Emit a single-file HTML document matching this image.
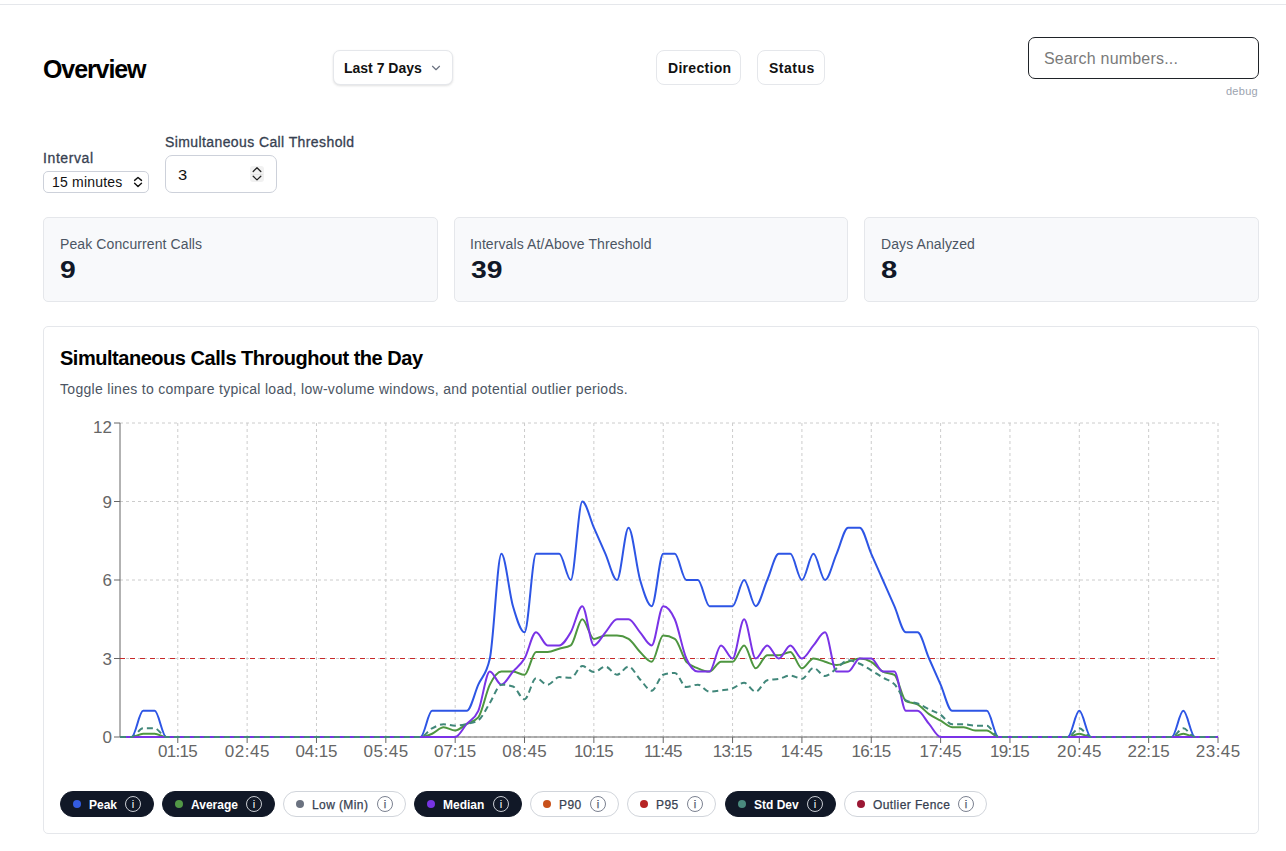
<!DOCTYPE html>
<html lang="en">
<head>
<meta charset="utf-8">
<title>Overview</title>
<style>
*{box-sizing:border-box;margin:0;padding:0}
html,body{width:1286px;height:851px;overflow:hidden;background:#fff}
body{position:relative;font-family:"Liberation Sans",Arial,sans-serif;color:#111827}
.abs{position:absolute}
.t{position:absolute;white-space:nowrap}
.topline{position:absolute;left:0;top:4px;width:1286px;height:1px;background:#e5e7eb}
.btn{position:absolute;background:#fff;border:1px solid #e5e7eb;border-radius:8px}
.card{position:absolute;background:#f8f9fb;border:1px solid #e5e7eb;border-radius:5px}
.chartcard{position:absolute;left:43px;top:326px;width:1216px;height:508px;background:#fff;border:1px solid #e5e7eb;border-radius:5px}
svg.chart{position:absolute;left:0;top:0}
svg.chart text{font-family:"Liberation Sans",Arial,sans-serif;font-size:17px}
.pill{position:absolute;top:791px;height:26px;border-radius:13px;border:1px solid #d1d5db;background:#fff;color:#374151;font-size:12px;letter-spacing:0.4px;-webkit-text-stroke:0.25px #374151}
.pill.on{background:#111827;border-color:#111827;color:#fff;font-weight:bold;letter-spacing:0;-webkit-text-stroke:0}
.pill .dot{position:absolute;left:12px;top:8px;width:8px;height:8px;border-radius:50%}
.pill .lbl{position:absolute;left:28px;top:1px;line-height:24px;white-space:nowrap}
.pill .info{position:absolute;top:4px;width:16px;height:16px;margin-left:-1px;border-radius:50%;border:1px solid #7b8190;color:#6b7280;font-size:11px;line-height:14px;text-align:center;font-weight:normal;letter-spacing:0}
.pill.on .info{border-color:#c9ccd3;color:#fff}
</style>
</head>
<body>
<div class="topline"></div>

<!-- header -->
<div class="t" style="left:43px;top:54.5px;font-size:25px;line-height:28px;font-weight:bold;letter-spacing:-1.1px;color:#000">Overview</div>

<div class="btn" style="left:333px;top:50px;width:120px;height:35px;border-radius:7px;box-shadow:0 1px 3px rgba(0,0,0,0.08),0 1px 2px rgba(0,0,0,0.05)"></div>
<div class="t" style="left:344px;top:59px;font-size:14px;line-height:18px;font-weight:bold;color:#111">Last 7 Days</div>
<svg class="abs" style="left:429px;top:61px" width="14" height="14" viewBox="0 0 24 24" fill="none" stroke="#6b7280" stroke-width="2" stroke-linecap="round" stroke-linejoin="round"><path d="m6 9 6 6 6-6"/></svg>

<div class="btn" style="left:656px;top:50px;width:85px;height:35px"></div>
<div class="t" style="left:668px;top:59px;font-size:14px;line-height:18px;font-weight:bold;letter-spacing:0.3px;color:#111">Direction</div>
<div class="btn" style="left:757px;top:50px;width:68px;height:35px"></div>
<div class="t" style="left:769px;top:59px;font-size:14px;line-height:18px;font-weight:bold;letter-spacing:0.5px;color:#111">Status</div>

<div class="abs" style="left:1028px;top:37px;width:231px;height:42px;border:1px solid #1f2328;border-radius:7px;background:#fff"></div>
<div class="t" style="left:1044px;top:49px;font-size:16px;line-height:20px;letter-spacing:0.2px;color:#7a7a7a">Search numbers...</div>
<div class="t" style="right:28px;top:84px;font-size:11px;line-height:14px;letter-spacing:0.3px;color:#9ca3af">debug</div>

<!-- controls -->
<div class="t" style="left:43px;top:149px;font-size:14px;line-height:18px;letter-spacing:0.6px;color:#374151;-webkit-text-stroke:0.3px #374151">Interval</div>
<div class="abs" style="left:43px;top:171px;width:106px;height:22px;border:1px solid #cdd1da;border-radius:5px;background:#fff"></div>
<div class="t" style="left:52px;top:174px;font-size:14px;line-height:17px;letter-spacing:0.2px;color:#111">15 minutes</div>
<svg class="abs" style="left:132px;top:175px" width="12" height="14" viewBox="0 0 12 14" fill="none" stroke="#111" stroke-width="1.4" stroke-linecap="round" stroke-linejoin="round"><path d="M2.6 5.4 6 2.5 9.5 5.4M2.6 8.2 6 11.5 9.5 8.2"/></svg>

<div class="t" style="left:165px;top:133px;font-size:14px;line-height:18px;letter-spacing:0.4px;color:#374151;-webkit-text-stroke:0.3px #374151">Simultaneous Call Threshold</div>
<div class="abs" style="left:165px;top:155px;width:112px;height:38px;border:1px solid #cdd1da;border-radius:7px;background:#fff"></div>
<div class="t" style="left:178px;top:166px;font-size:15px;line-height:18px;color:#111;transform:scaleX(1.1);transform-origin:0 0">3</div>
<div class="abs" style="left:250px;top:166px;width:14px;height:16px;border-radius:3px;background:#f1f1f1"></div><div class="abs" style="left:251px;top:173.5px;width:12px;height:1px;background:#e4e4e4"></div>
<svg class="abs" style="left:250px;top:166px" width="14" height="16" viewBox="0 0 14 16" fill="none" stroke="#222" stroke-width="1.3" stroke-linecap="round" stroke-linejoin="round"><path d="M3.2 5.5 7 1.7 10.8 5.5M3.2 10.3 7 13.9 10.8 10.3"/></svg>

<!-- stat cards -->
<div class="card" style="left:43px;top:217px;width:395px;height:85px"></div>
<div class="card" style="left:454px;top:217px;width:394px;height:85px"></div>
<div class="card" style="left:864px;top:217px;width:395px;height:85px"></div>
<div class="t" style="left:60px;top:236px;font-size:14px;line-height:17px;letter-spacing:0.1px;color:#4b5563">Peak Concurrent Calls</div>
<div class="t" style="left:470px;top:236px;font-size:14px;line-height:17px;letter-spacing:0.1px;color:#4b5563">Intervals At/Above Threshold</div>
<div class="t" style="left:881px;top:236px;font-size:14px;line-height:17px;letter-spacing:0.1px;color:#4b5563">Days Analyzed</div>
<div class="t" style="left:60px;top:256px;font-size:24px;line-height:28px;font-weight:bold;color:#111827;transform:scaleX(1.18);transform-origin:0 0">9</div>
<div class="t" style="left:471px;top:256px;font-size:24px;line-height:28px;font-weight:bold;color:#111827;transform:scaleX(1.18);transform-origin:0 0">39</div>
<div class="t" style="left:881px;top:256px;font-size:24px;line-height:28px;font-weight:bold;color:#111827;transform:scaleX(1.22);transform-origin:0 0">8</div>

<!-- chart card -->
<div class="chartcard"></div>
<div class="t" style="left:60px;top:346px;font-size:20px;line-height:24px;font-weight:bold;letter-spacing:-0.47px;color:#000">Simultaneous Calls Throughout the Day</div>
<div class="t" style="left:60px;top:381px;font-size:14px;line-height:17px;letter-spacing:0.3px;color:#4b5563">Toggle lines to compare typical load, low-volume windows, and potential outlier periods.</div>

<svg class="chart" width="1286" height="851" viewBox="0 0 1286 851">
<g stroke="#ccc" stroke-dasharray="3 3" fill="none"><line x1="120" y1="737.000" x2="1218" y2="737.000"/><line x1="120" y1="658.500" x2="1218" y2="658.500"/><line x1="120" y1="580.000" x2="1218" y2="580.000"/><line x1="120" y1="501.500" x2="1218" y2="501.500"/><line x1="120" y1="423.000" x2="1218" y2="423.000"/><line x1="177.789" y1="423" x2="177.789" y2="737"/><line x1="247.137" y1="423" x2="247.137" y2="737"/><line x1="316.484" y1="423" x2="316.484" y2="737"/><line x1="385.832" y1="423" x2="385.832" y2="737"/><line x1="455.179" y1="423" x2="455.179" y2="737"/><line x1="524.526" y1="423" x2="524.526" y2="737"/><line x1="593.874" y1="423" x2="593.874" y2="737"/><line x1="663.221" y1="423" x2="663.221" y2="737"/><line x1="732.568" y1="423" x2="732.568" y2="737"/><line x1="801.916" y1="423" x2="801.916" y2="737"/><line x1="871.263" y1="423" x2="871.263" y2="737"/><line x1="940.611" y1="423" x2="940.611" y2="737"/><line x1="1009.958" y1="423" x2="1009.958" y2="737"/><line x1="1079.305" y1="423" x2="1079.305" y2="737"/><line x1="1148.653" y1="423" x2="1148.653" y2="737"/><line x1="1218.000" y1="423" x2="1218.000" y2="737"/></g>
<g stroke="#666" fill="none"><line x1="120" y1="737" x2="1218" y2="737"/><line x1="177.789" y1="743" x2="177.789" y2="737"/><line x1="247.137" y1="743" x2="247.137" y2="737"/><line x1="316.484" y1="743" x2="316.484" y2="737"/><line x1="385.832" y1="743" x2="385.832" y2="737"/><line x1="455.179" y1="743" x2="455.179" y2="737"/><line x1="524.526" y1="743" x2="524.526" y2="737"/><line x1="593.874" y1="743" x2="593.874" y2="737"/><line x1="663.221" y1="743" x2="663.221" y2="737"/><line x1="732.568" y1="743" x2="732.568" y2="737"/><line x1="801.916" y1="743" x2="801.916" y2="737"/><line x1="871.263" y1="743" x2="871.263" y2="737"/><line x1="940.611" y1="743" x2="940.611" y2="737"/><line x1="1009.958" y1="743" x2="1009.958" y2="737"/><line x1="1079.305" y1="743" x2="1079.305" y2="737"/><line x1="1148.653" y1="743" x2="1148.653" y2="737"/><line x1="1218.000" y1="743" x2="1218.000" y2="737"/><line x1="120" y1="423" x2="120" y2="737"/><line x1="114" y1="737.000" x2="120" y2="737.000"/><line x1="114" y1="658.500" x2="120" y2="658.500"/><line x1="114" y1="580.000" x2="120" y2="580.000"/><line x1="114" y1="501.500" x2="120" y2="501.500"/><line x1="114" y1="423.000" x2="120" y2="423.000"/></g>
<g class="ticks" fill="#666"><text x="177.439" y="745" dy="0.71em" text-anchor="middle" letter-spacing="-0.7">01:15</text><text x="247.387" y="745" dy="0.71em" text-anchor="middle" letter-spacing="0.5">02:45</text><text x="316.434" y="745" dy="0.71em" text-anchor="middle" letter-spacing="-0.1">04:15</text><text x="386.082" y="745" dy="0.71em" text-anchor="middle" letter-spacing="0.5">05:45</text><text x="455.129" y="745" dy="0.71em" text-anchor="middle" letter-spacing="-0.1">07:15</text><text x="524.776" y="745" dy="0.71em" text-anchor="middle" letter-spacing="0.5">08:45</text><text x="593.524" y="745" dy="0.71em" text-anchor="middle" letter-spacing="-0.7">10:15</text><text x="662.871" y="745" dy="0.71em" text-anchor="middle" letter-spacing="-0.7">11:45</text><text x="732.218" y="745" dy="0.71em" text-anchor="middle" letter-spacing="-0.7">13:15</text><text x="801.866" y="745" dy="0.71em" text-anchor="middle" letter-spacing="-0.1">14:45</text><text x="870.913" y="745" dy="0.71em" text-anchor="middle" letter-spacing="-0.7">16:15</text><text x="940.561" y="745" dy="0.71em" text-anchor="middle" letter-spacing="-0.1">17:45</text><text x="1009.608" y="745" dy="0.71em" text-anchor="middle" letter-spacing="-0.7">19:15</text><text x="1079.555" y="745" dy="0.71em" text-anchor="middle" letter-spacing="0.5">20:45</text><text x="1148.603" y="745" dy="0.71em" text-anchor="middle" letter-spacing="-0.1">22:15</text><text x="1218.250" y="745" dy="0.71em" text-anchor="middle" letter-spacing="0.5">23:45</text><text x="112" y="737.000" dy="0.355em" text-anchor="end">0</text><text x="112" y="658.500" dy="0.355em" text-anchor="end">3</text><text x="112" y="580.000" dy="0.355em" text-anchor="end">6</text><text x="112" y="501.500" dy="0.355em" text-anchor="end">9</text><text x="112" y="427.000" dy="0.355em" text-anchor="end">12</text></g>
<line x1="120" y1="658.500" x2="1218" y2="658.500" stroke="#c62828" stroke-dasharray="5 5"/>
<path d="M120,737C123.853,737,127.705,737,131.558,737C135.411,737,139.263,710.833,143.116,710.833C146.968,710.833,150.821,710.833,154.674,710.833C158.526,710.833,162.379,737,166.232,737C170.084,737,173.937,737,177.789,737C181.642,737,185.495,737,189.347,737C193.2,737,197.053,737,200.905,737C204.758,737,208.611,737,212.463,737C216.316,737,220.168,737,224.021,737C227.874,737,231.726,737,235.579,737C239.432,737,243.284,737,247.137,737C250.989,737,254.842,737,258.695,737C262.547,737,266.4,737,270.253,737C274.105,737,277.958,737,281.811,737C285.663,737,289.516,737,293.368,737C297.221,737,301.074,737,304.926,737C308.779,737,312.632,737,316.484,737C320.337,737,324.189,737,328.042,737C331.895,737,335.747,737,339.6,737C343.453,737,347.305,737,351.158,737C355.011,737,358.863,737,362.716,737C366.568,737,370.421,737,374.274,737C378.126,737,381.979,737,385.832,737C389.684,737,393.537,737,397.389,737C401.242,737,405.095,737,408.947,737C412.8,737,416.653,737,420.505,737C424.358,737,428.211,710.833,432.063,710.833C435.916,710.833,439.768,710.833,443.621,710.833C447.474,710.833,451.326,710.833,455.179,710.833C459.032,710.833,462.884,710.833,466.737,710.833C470.589,710.833,474.442,693.389,478.295,684.667C482.147,675.944,486,675.944,489.853,658.5C493.705,641.056,497.558,553.833,501.411,553.833C505.263,553.833,509.116,593.083,512.968,606.167C516.821,619.25,520.674,632.333,524.526,632.333C528.379,632.333,532.232,553.833,536.084,553.833C539.937,553.833,543.789,553.833,547.642,553.833C551.495,553.833,555.347,553.833,559.2,553.833C563.053,553.833,566.905,580,570.758,580C574.611,580,578.463,501.5,582.316,501.5C586.168,501.5,590.021,518.944,593.874,527.667C597.726,536.389,601.579,545.111,605.432,553.833C609.284,562.556,613.137,580,616.989,580C620.842,580,624.695,527.667,628.547,527.667C632.4,527.667,636.253,566.917,640.105,580C643.958,593.083,647.811,606.167,651.663,606.167C655.516,606.167,659.368,553.833,663.221,553.833C667.074,553.833,670.926,553.833,674.779,553.833C678.632,553.833,682.484,580,686.337,580C690.189,580,694.042,580,697.895,580C701.747,580,705.6,606.167,709.453,606.167C713.305,606.167,717.158,606.167,721.011,606.167C724.863,606.167,728.716,606.167,732.568,606.167C736.421,606.167,740.274,580,744.126,580C747.979,580,751.832,606.167,755.684,606.167C759.537,606.167,763.389,588.722,767.242,580C771.095,571.278,774.947,553.833,778.8,553.833C782.653,553.833,786.505,553.833,790.358,553.833C794.211,553.833,798.063,580,801.916,580C805.768,580,809.621,553.833,813.474,553.833C817.326,553.833,821.179,580,825.032,580C828.884,580,832.737,562.556,836.589,553.833C840.442,545.111,844.295,527.667,848.147,527.667C852,527.667,855.853,527.667,859.705,527.667C863.558,527.667,867.411,545.111,871.263,553.833C875.116,562.556,878.968,571.278,882.821,580C886.674,588.722,890.526,597.444,894.379,606.167C898.232,614.889,902.084,632.333,905.937,632.333C909.789,632.333,913.642,632.333,917.495,632.333C921.347,632.333,925.2,649.778,929.053,658.5C932.905,667.222,936.758,675.944,940.611,684.667C944.463,693.389,948.316,710.833,952.168,710.833C956.021,710.833,959.874,710.833,963.726,710.833C967.579,710.833,971.432,710.833,975.284,710.833C979.137,710.833,982.989,710.833,986.842,710.833C990.695,710.833,994.547,737,998.4,737C1002.253,737,1006.105,737,1009.958,737C1013.811,737,1017.663,737,1021.516,737C1025.368,737,1029.221,737,1033.074,737C1036.926,737,1040.779,737,1044.632,737C1048.484,737,1052.337,737,1056.189,737C1060.042,737,1063.895,737,1067.747,737C1071.6,737,1075.453,710.833,1079.305,710.833C1083.158,710.833,1087.011,737,1090.863,737C1094.716,737,1098.568,737,1102.421,737C1106.274,737,1110.126,737,1113.979,737C1117.832,737,1121.684,737,1125.537,737C1129.389,737,1133.242,737,1137.095,737C1140.947,737,1144.8,737,1148.653,737C1152.505,737,1156.358,737,1160.211,737C1164.063,737,1167.916,737,1171.768,737C1175.621,737,1179.474,710.833,1183.326,710.833C1187.179,710.833,1191.032,737,1194.884,737C1198.737,737,1202.589,737,1206.442,737C1210.295,737,1214.147,737,1218,737" stroke="#2d55e5" stroke-width="2" fill="none"/>
<path d="M120,737C123.853,737,127.705,737,131.558,737C135.411,737,139.263,733.729,143.116,733.729C146.968,733.729,150.821,733.729,154.674,733.729C158.526,733.729,162.379,737,166.232,737C170.084,737,173.937,737,177.789,737C181.642,737,185.495,737,189.347,737C193.2,737,197.053,737,200.905,737C204.758,737,208.611,737,212.463,737C216.316,737,220.168,737,224.021,737C227.874,737,231.726,737,235.579,737C239.432,737,243.284,737,247.137,737C250.989,737,254.842,737,258.695,737C262.547,737,266.4,737,270.253,737C274.105,737,277.958,737,281.811,737C285.663,737,289.516,737,293.368,737C297.221,737,301.074,737,304.926,737C308.779,737,312.632,737,316.484,737C320.337,737,324.189,737,328.042,737C331.895,737,335.747,737,339.6,737C343.453,737,347.305,737,351.158,737C355.011,737,358.863,737,362.716,737C366.568,737,370.421,737,374.274,737C378.126,737,381.979,737,385.832,737C389.684,737,393.537,737,397.389,737C401.242,737,405.095,737,408.947,737C412.8,737,416.653,737,420.505,737C424.358,737,428.211,735.365,432.063,733.729C435.916,732.094,439.768,727.188,443.621,727.188C447.474,727.188,451.326,730.458,455.179,730.458C459.032,730.458,462.884,726.097,466.737,723.917C470.589,721.736,474.442,721.736,478.295,717.375C482.147,713.014,486,692.299,489.853,684.667C493.705,677.035,497.558,671.583,501.411,671.583C505.263,671.583,509.116,671.583,512.968,671.583C516.821,671.583,520.674,674.854,524.526,674.854C528.379,674.854,532.232,651.958,536.084,651.958C539.937,651.958,543.789,651.958,547.642,651.958C551.495,651.958,555.347,649.778,559.2,648.688C563.053,647.597,566.905,647.597,570.758,645.417C574.611,643.236,578.463,619.25,582.316,619.25C586.168,619.25,590.021,638.875,593.874,638.875C597.726,638.875,601.579,635.604,605.432,635.604C609.284,635.604,613.137,635.604,616.989,635.604C620.842,635.604,624.695,636.694,628.547,638.875C632.4,641.056,636.253,648.142,640.105,651.958C643.958,655.774,647.811,661.771,651.663,661.771C655.516,661.771,659.368,635.604,663.221,635.604C667.074,635.604,670.926,636.694,674.779,638.875C678.632,641.056,682.484,657.41,686.337,661.771C690.189,666.132,694.042,666.677,697.895,668.312C701.747,669.948,705.6,671.583,709.453,671.583C713.305,671.583,717.158,661.771,721.011,661.771C724.863,661.771,728.716,661.771,732.568,661.771C736.421,661.771,740.274,645.417,744.126,645.417C747.979,645.417,751.832,668.312,755.684,668.312C759.537,668.312,763.389,655.229,767.242,655.229C771.095,655.229,774.947,655.229,778.8,655.229C782.653,655.229,786.505,651.958,790.358,651.958C794.211,651.958,798.063,668.312,801.916,668.312C805.768,668.312,809.621,658.5,813.474,658.5C817.326,658.5,821.179,660.681,825.032,661.771C828.884,662.861,832.737,665.042,836.589,665.042C840.442,665.042,844.295,662.861,848.147,661.771C852,660.681,855.853,658.5,859.705,658.5C863.558,658.5,867.411,659.59,871.263,661.771C875.116,663.951,878.968,669.403,882.821,671.583C886.674,673.764,890.526,672.674,894.379,674.854C898.232,677.035,902.084,698.84,905.937,701.021C909.789,703.201,913.642,702.111,917.495,704.292C921.347,706.472,925.2,711.378,929.053,714.104C932.905,716.83,936.758,718.465,940.611,720.646C944.463,722.826,948.316,727.188,952.168,727.188C956.021,727.188,959.874,727.188,963.726,727.188C967.579,727.188,971.432,730.458,975.284,730.458C979.137,730.458,982.989,730.458,986.842,730.458C990.695,730.458,994.547,737,998.4,737C1002.253,737,1006.105,737,1009.958,737C1013.811,737,1017.663,737,1021.516,737C1025.368,737,1029.221,737,1033.074,737C1036.926,737,1040.779,737,1044.632,737C1048.484,737,1052.337,737,1056.189,737C1060.042,737,1063.895,737,1067.747,737C1071.6,737,1075.453,733.729,1079.305,733.729C1083.158,733.729,1087.011,737,1090.863,737C1094.716,737,1098.568,737,1102.421,737C1106.274,737,1110.126,737,1113.979,737C1117.832,737,1121.684,737,1125.537,737C1129.389,737,1133.242,737,1137.095,737C1140.947,737,1144.8,737,1148.653,737C1152.505,737,1156.358,737,1160.211,737C1164.063,737,1167.916,737,1171.768,737C1175.621,737,1179.474,733.729,1183.326,733.729C1187.179,733.729,1191.032,737,1194.884,737C1198.737,737,1202.589,737,1206.442,737C1210.295,737,1214.147,737,1218,737" stroke="#4e9640" stroke-width="2" fill="none"/>
<path d="M120,737C123.853,737,127.705,737,131.558,737C135.411,737,139.263,737,143.116,737C146.968,737,150.821,737,154.674,737C158.526,737,162.379,737,166.232,737C170.084,737,173.937,737,177.789,737C181.642,737,185.495,737,189.347,737C193.2,737,197.053,737,200.905,737C204.758,737,208.611,737,212.463,737C216.316,737,220.168,737,224.021,737C227.874,737,231.726,737,235.579,737C239.432,737,243.284,737,247.137,737C250.989,737,254.842,737,258.695,737C262.547,737,266.4,737,270.253,737C274.105,737,277.958,737,281.811,737C285.663,737,289.516,737,293.368,737C297.221,737,301.074,737,304.926,737C308.779,737,312.632,737,316.484,737C320.337,737,324.189,737,328.042,737C331.895,737,335.747,737,339.6,737C343.453,737,347.305,737,351.158,737C355.011,737,358.863,737,362.716,737C366.568,737,370.421,737,374.274,737C378.126,737,381.979,737,385.832,737C389.684,737,393.537,737,397.389,737C401.242,737,405.095,737,408.947,737C412.8,737,416.653,737,420.505,737C424.358,737,428.211,737,432.063,737C435.916,737,439.768,737,443.621,737C447.474,737,451.326,737,455.179,737C459.032,737,462.884,728.278,466.737,723.917C470.589,719.556,474.442,719.556,478.295,710.833C482.147,702.111,486,671.583,489.853,671.583C493.705,671.583,497.558,684.667,501.411,684.667C505.263,684.667,509.116,675.944,512.968,671.583C516.821,667.222,520.674,665.042,524.526,658.5C528.379,651.958,532.232,632.333,536.084,632.333C539.937,632.333,543.789,645.417,547.642,645.417C551.495,645.417,555.347,645.417,559.2,645.417C563.053,645.417,566.905,638.875,570.758,632.333C574.611,625.792,578.463,606.167,582.316,606.167C586.168,606.167,590.021,645.417,593.874,645.417C597.726,645.417,601.579,636.694,605.432,632.333C609.284,627.972,613.137,619.25,616.989,619.25C620.842,619.25,624.695,619.25,628.547,619.25C632.4,619.25,636.253,627.972,640.105,632.333C643.958,636.694,647.811,645.417,651.663,645.417C655.516,645.417,659.368,606.167,663.221,606.167C667.074,606.167,670.926,610.528,674.779,619.25C678.632,627.972,682.484,649.778,686.337,658.5C690.189,667.222,694.042,671.583,697.895,671.583C701.747,671.583,705.6,671.583,709.453,671.583C713.305,671.583,717.158,645.417,721.011,645.417C724.863,645.417,728.716,658.5,732.568,658.5C736.421,658.5,740.274,619.25,744.126,619.25C747.979,619.25,751.832,658.5,755.684,658.5C759.537,658.5,763.389,645.417,767.242,645.417C771.095,645.417,774.947,658.5,778.8,658.5C782.653,658.5,786.505,645.417,790.358,645.417C794.211,645.417,798.063,658.5,801.916,658.5C805.768,658.5,809.621,649.778,813.474,645.417C817.326,641.056,821.179,632.333,825.032,632.333C828.884,632.333,832.737,671.583,836.589,671.583C840.442,671.583,844.295,671.583,848.147,671.583C852,671.583,855.853,658.5,859.705,658.5C863.558,658.5,867.411,658.5,871.263,658.5C875.116,658.5,878.968,671.583,882.821,671.583C886.674,671.583,890.526,671.583,894.379,671.583C898.232,671.583,902.084,710.833,905.937,710.833C909.789,710.833,913.642,710.833,917.495,710.833C921.347,710.833,925.2,719.556,929.053,723.917C932.905,728.278,936.758,737,940.611,737C944.463,737,948.316,737,952.168,737C956.021,737,959.874,737,963.726,737C967.579,737,971.432,737,975.284,737C979.137,737,982.989,737,986.842,737C990.695,737,994.547,737,998.4,737C1002.253,737,1006.105,737,1009.958,737C1013.811,737,1017.663,737,1021.516,737C1025.368,737,1029.221,737,1033.074,737C1036.926,737,1040.779,737,1044.632,737C1048.484,737,1052.337,737,1056.189,737C1060.042,737,1063.895,737,1067.747,737C1071.6,737,1075.453,737,1079.305,737C1083.158,737,1087.011,737,1090.863,737C1094.716,737,1098.568,737,1102.421,737C1106.274,737,1110.126,737,1113.979,737C1117.832,737,1121.684,737,1125.537,737C1129.389,737,1133.242,737,1137.095,737C1140.947,737,1144.8,737,1148.653,737C1152.505,737,1156.358,737,1160.211,737C1164.063,737,1167.916,737,1171.768,737C1175.621,737,1179.474,737,1183.326,737C1187.179,737,1191.032,737,1194.884,737C1198.737,737,1202.589,737,1206.442,737C1210.295,737,1214.147,737,1218,737" stroke="#7a33e6" stroke-width="2" fill="none"/>
<path d="M120,737C123.853,737,127.705,737,131.558,737C135.411,737,139.263,728.339,143.116,728.339C146.968,728.339,150.821,728.339,154.674,728.339C158.526,728.339,162.379,737,166.232,737C170.084,737,173.937,737,177.789,737C181.642,737,185.495,737,189.347,737C193.2,737,197.053,737,200.905,737C204.758,737,208.611,737,212.463,737C216.316,737,220.168,737,224.021,737C227.874,737,231.726,737,235.579,737C239.432,737,243.284,737,247.137,737C250.989,737,254.842,737,258.695,737C262.547,737,266.4,737,270.253,737C274.105,737,277.958,737,281.811,737C285.663,737,289.516,737,293.368,737C297.221,737,301.074,737,304.926,737C308.779,737,312.632,737,316.484,737C320.337,737,324.189,737,328.042,737C331.895,737,335.747,737,339.6,737C343.453,737,347.305,737,351.158,737C355.011,737,358.863,737,362.716,737C366.568,737,370.421,737,374.274,737C378.126,737,381.979,737,385.832,737C389.684,737,393.537,737,397.389,737C401.242,737,405.095,737,408.947,737C412.8,737,416.653,737,420.505,737C424.358,737,428.211,730.45,432.063,728.339C435.916,726.228,439.768,724.335,443.621,724.335C447.474,724.335,451.326,725.67,455.179,725.67C459.032,725.67,462.884,724.819,466.737,723.917C470.589,723.014,474.442,722.696,478.295,720.253C482.147,717.811,486,708.914,489.853,702.983C493.705,697.052,497.558,684.667,501.411,684.667C505.263,684.667,509.116,685.277,512.968,686.498C516.821,687.719,520.674,699.32,524.526,699.32C528.379,699.32,532.232,678.125,536.084,678.125C539.937,678.125,543.789,684.667,547.642,684.667C551.495,684.667,555.347,677.078,559.2,677.078C563.053,677.078,566.905,677.863,570.758,677.863C574.611,677.863,578.463,666.088,582.316,666.088C586.168,666.088,590.021,672.107,593.874,672.107C597.726,672.107,601.579,666.612,605.432,666.612C609.284,666.612,613.137,674.723,616.989,674.723C620.842,674.723,624.695,666.612,628.547,666.612C632.4,666.612,636.253,675.421,640.105,679.433C643.958,683.446,647.811,690.685,651.663,690.685C655.516,690.685,659.368,675.944,663.221,674.723C667.074,673.502,670.926,672.892,674.779,672.892C678.632,672.892,682.484,687.022,686.337,687.022C690.189,687.022,694.042,684.667,697.895,684.667C701.747,684.667,705.6,691.732,709.453,691.732C713.305,691.732,717.158,690.99,721.011,690.423C724.863,689.856,728.716,689.595,732.568,688.33C736.421,687.065,740.274,682.835,744.126,682.835C747.979,682.835,751.832,691.732,755.684,691.732C759.537,691.732,763.389,681.091,767.242,680.218C771.095,679.346,774.947,679.695,778.8,678.91C782.653,678.125,786.505,675.508,790.358,675.508C794.211,675.508,798.063,678.91,801.916,678.91C805.768,678.91,809.621,667.92,813.474,667.92C817.326,667.92,821.179,676.032,825.032,676.032C828.884,676.032,832.737,671.06,836.589,668.443C840.442,665.827,844.295,660.332,848.147,660.332C852,660.332,855.853,662.076,859.705,663.733C863.558,665.391,867.411,667.964,871.263,670.275C875.116,672.586,878.968,675.29,882.821,677.602C886.674,679.913,890.526,680.349,894.379,684.143C898.232,687.938,902.084,698.273,905.937,700.367C909.789,702.46,913.642,702.024,917.495,703.507C921.347,704.989,925.2,707.388,929.053,709.263C932.905,711.139,936.758,712.246,940.611,714.758C944.463,717.27,948.316,724.335,952.168,724.335C956.021,724.335,959.874,724.335,963.726,724.335C967.579,724.335,971.432,725.67,975.284,725.67C979.137,725.67,982.989,725.67,986.842,725.67C990.695,725.67,994.547,737,998.4,737C1002.253,737,1006.105,737,1009.958,737C1013.811,737,1017.663,737,1021.516,737C1025.368,737,1029.221,737,1033.074,737C1036.926,737,1040.779,737,1044.632,737C1048.484,737,1052.337,737,1056.189,737C1060.042,737,1063.895,737,1067.747,737C1071.6,737,1075.453,728.339,1079.305,728.339C1083.158,728.339,1087.011,737,1090.863,737C1094.716,737,1098.568,737,1102.421,737C1106.274,737,1110.126,737,1113.979,737C1117.832,737,1121.684,737,1125.537,737C1129.389,737,1133.242,737,1137.095,737C1140.947,737,1144.8,737,1148.653,737C1152.505,737,1156.358,737,1160.211,737C1164.063,737,1167.916,737,1171.768,737C1175.621,737,1179.474,728.339,1183.326,728.339C1187.179,728.339,1191.032,737,1194.884,737C1198.737,737,1202.589,737,1206.442,737C1210.295,737,1214.147,737,1218,737" stroke="#41877a" stroke-width="2" fill="none" stroke-dasharray="6 4"/>
</svg>

<!-- legend -->
<div class="pill on" style="left:60px;width:94px"><span class="dot" style="background:#345ce2"></span><span class="lbl">Peak</span><span class="info" style="left:65px">i</span></div>
<div class="pill on" style="left:162px;width:113px"><span class="dot" style="background:#529846"></span><span class="lbl">Average</span><span class="info" style="left:84px">i</span></div>
<div class="pill" style="left:283px;width:123px"><span class="dot" style="background:#6b7280"></span><span class="lbl">Low (Min)</span><span class="info" style="left:94px">i</span></div>
<div class="pill on" style="left:414px;width:108px"><span class="dot" style="background:#7834e4"></span><span class="lbl">Median</span><span class="info" style="left:79px">i</span></div>
<div class="pill" style="left:530px;width:89px"><span class="dot" style="background:#c8501a"></span><span class="lbl">P90</span><span class="info" style="left:60px">i</span></div>
<div class="pill" style="left:627px;width:89px"><span class="dot" style="background:#b62424"></span><span class="lbl">P95</span><span class="info" style="left:60px">i</span></div>
<div class="pill on" style="left:725px;width:111px"><span class="dot" style="background:#4a8a7e"></span><span class="lbl">Std Dev</span><span class="info" style="left:82px">i</span></div>
<div class="pill" style="left:844px;width:143px"><span class="dot" style="background:#9b1834"></span><span class="lbl">Outlier Fence</span><span class="info" style="left:114px">i</span></div>

</body>
</html>
